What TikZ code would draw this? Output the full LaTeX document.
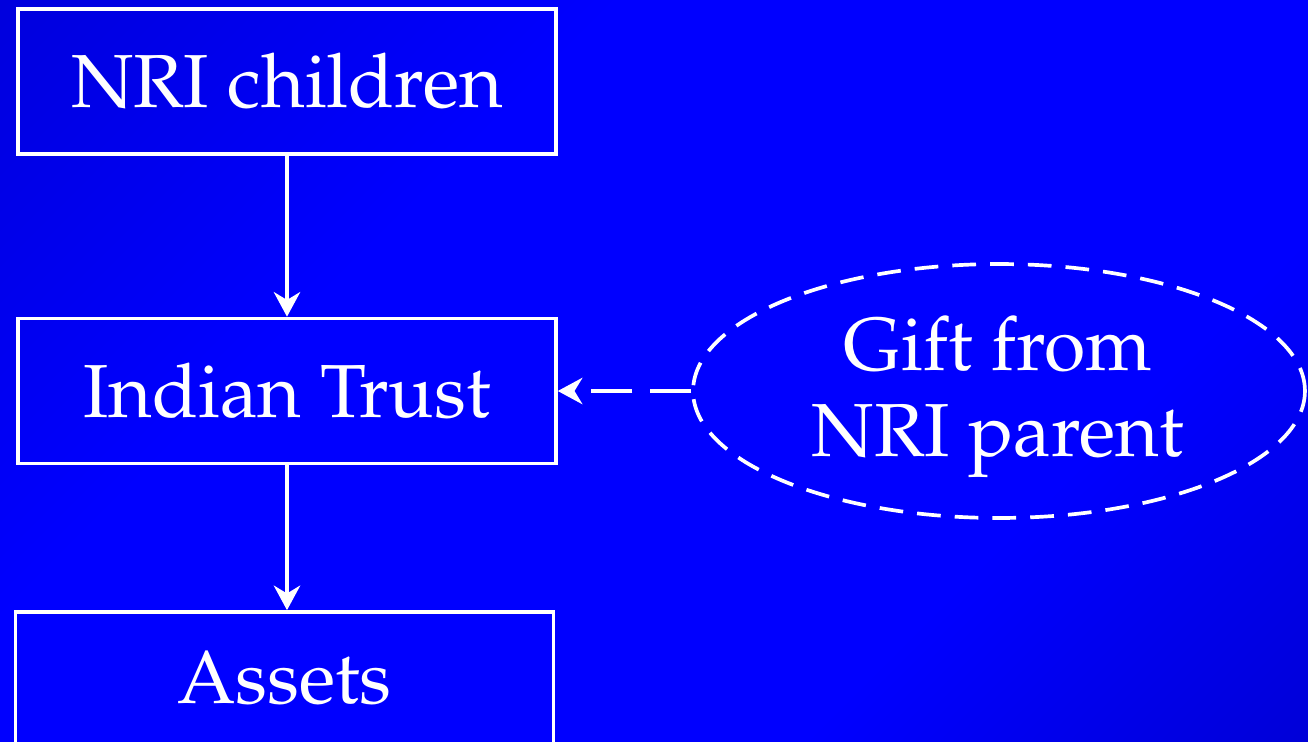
\documentclass[tikz,border=0pt]{standalone}
\usepackage[T1]{fontenc}
\usepackage{mathpazo}
\usetikzlibrary{arrows.meta,shapes.geometric}

\definecolor{bgdarkA}{RGB}{0,0,198}
\definecolor{bgdarkB}{RGB}{0,0,184}
\definecolor{bgbright}{RGB}{0,0,255}

% diagonal background: dark corners, bright middle band
\pgfdeclareverticalshading{bgshade}{100bp}{%
  color(0bp)=(bgdarkB); color(32bp)=(bgbright); color(64bp)=(bgbright); color(100bp)=(bgdarkA)}

\tikzset{
  big/.style={font=\fontsize{42.8pt}{49pt}\selectfont, text=white},
  stepbox/.style={big, draw=white, line width=2.1pt, rectangle, inner sep=0pt,
    minimum width=10.76cm, minimum height=2.9cm, text height=29.6pt, text depth=0pt},
  giftshape/.style={draw=white, line width=2.1pt, ellipse, inner sep=0pt,
    minimum width=12.24cm, minimum height=5.08cm, dash pattern=on 13.5pt off 8pt},
  conn/.style={draw=white, line width=2.1pt,
    -{Stealth[length=14pt, width=15pt, inset=4.5pt]}},
  dashconn/.style={conn, dash pattern=on 23.3pt off 10.2pt}
}

\begin{document}
\begin{tikzpicture}[x=0.02cm, y=-0.02cm]
  % canvas and gradient
  \useasboundingbox (0,0) rectangle (1308,741);
  \shade[shading=bgshade, shading angle=45] (0,0) rectangle (1308,741);

  \begin{scope}
    \clip (0,0) rectangle (1308,741);
    % boxes
    \node[stepbox] (nri) at (287,81.5) {NRI children};
    \node[stepbox] (trust) at (287,391) {Indian Trust};
    \node[stepbox, text depth=8pt] (assets) at (284.5,684.5) {Assets};

    % gift ellipse
    \node[giftshape] (gift) at (999,391) {};
    \node[big, align=center, inner sep=0pt] (gifttext) at (998,397) {Gift from\\NRI parent};

    % connectors
    \draw[conn] (nri) -- (trust);
    \draw[conn] (trust.south) -- (trust.south |- assets.north);
    \draw[dashconn] (gift.west) -- (trust.east);
  \end{scope}
\end{tikzpicture}
\end{document}
